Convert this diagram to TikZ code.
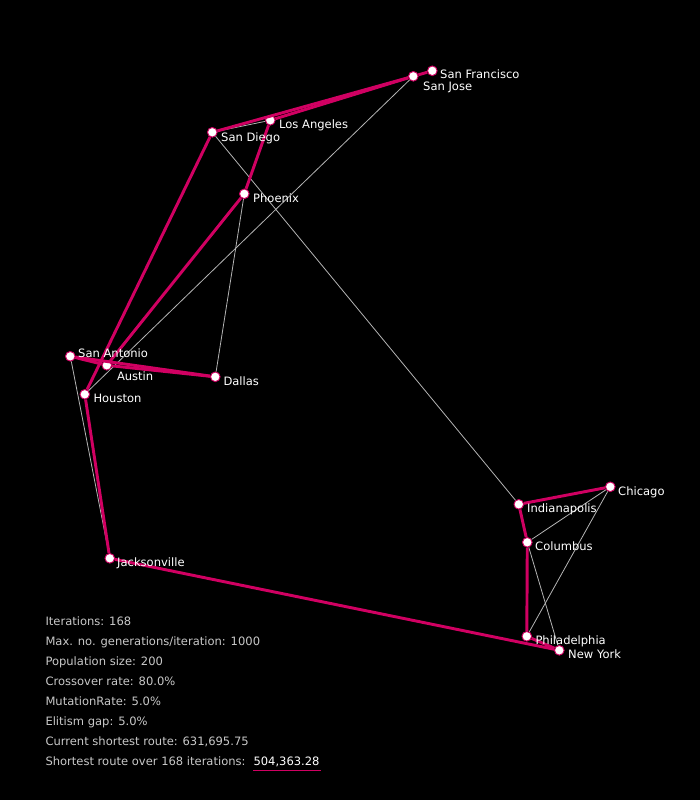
\documentclass[tikz,border=0pt]{standalone}
\usepackage{fontspec}
\setmainfont{DejaVu Sans}
\definecolor{routepink}{RGB}{208,0,98}
\definecolor{edgegrey}{RGB}{180,180,180}
\definecolor{infogrey}{RGB}{200,200,200}
\tikzset{
	every picture/.style={line width=0.75pt},
	city/.style={circle,draw=routepink,fill=white,line width=0.7pt,inner sep=0pt,minimum size=7.2pt},
	cityname/.style={anchor=base west,inner sep=0pt,text=white,font=\fontsize{8.65}{10}\selectfont},
	infotext/.style={anchor=base west,inner sep=0pt,text=infogrey,font=\fontsize{8.65}{10}\selectfont},
	bestroute/.style={draw=routepink,line width=2.2pt},
	candroute/.style={draw=edgegrey,line width=0.6pt},
}

\begin{document}
\begin{tikzpicture}[x=0.75pt,y=0.75pt,yscale=-1,xscale=1]
	\useasboundingbox (0,0) rectangle (700,800);
	\fill[black] (0,0) rectangle (700,800);

	% Cities
	\node[city] (sanfrancisco) at (432.3,70.8) {};
	\node[city] (sanjose) at (413.3,76.3) {};
	\node[city] (losangeles) at (270.3,120.3) {};
	\node[city] (sandiego) at (212.3,132.3) {};
	\node[city] (phoenix) at (244.3,193.8) {};
	\node[city] (sanantonio) at (70.3,356.3) {};
	\node[city] (austin) at (106.8,365.3) {};
	\node[city] (houston) at (84.8,394.3) {};
	\node[city] (dallas) at (215.3,376.8) {};
	\node[city] (jacksonville) at (109.8,558.3) {};
	\node[city] (indianapolis) at (518.8,504.3) {};
	\node[city] (chicago) at (610.3,486.8) {};
	\node[city] (columbus) at (527.3,542.3) {};
	\node[city] (philadelphia) at (526.8,636.3) {};
	\node[city] (newyork) at (559.3,650.3) {};

	% Thin Lines
	\draw[candroute] (sandiego) -- (losangeles);
	\draw[candroute] (sandiego) -- (indianapolis);
	\draw[candroute] (sanjose) -- (houston);
	\draw[candroute] (phoenix) -- (dallas);
	\draw[candroute] (sanantonio) -- (jacksonville);
	\draw[candroute] (chicago) -- (columbus);
	\draw[candroute] (chicago) -- (philadelphia);
	\draw[candroute] (columbus) -- (newyork);

	% Route Lines
	\draw[bestroute] (sanfrancisco) -- (sanjose);
	\draw[bestroute] (sanjose) -- (sandiego);
	\draw[bestroute] (sanjose) -- (losangeles);
	\draw[bestroute] (losangeles) -- (phoenix);
	\draw[bestroute] (phoenix) -- (austin);
	\draw[bestroute] (sandiego) -- (houston);
	\draw[bestroute] (sanantonio) -- (austin);
	\draw[bestroute] (sanantonio) -- (dallas);
	\draw[bestroute] (austin) -- (dallas);
	\draw[bestroute] (houston) -- (jacksonville);
	\draw[bestroute] (jacksonville) -- (newyork);
	\draw[bestroute] (newyork) -- (philadelphia);
	\draw[bestroute] (philadelphia) -- (columbus);
	\draw[bestroute] (columbus) -- (indianapolis);
	\draw[bestroute] (indianapolis) -- (chicago);

	% Text Node
	\node[cityname] (sanfrancisconame) at (439.7,78) {San Francisco};
	\node[cityname] (sanjosename) at (422.7,90) {San Jose};
	\node[cityname] (losangelesname) at (278.7,128) {Los Angeles};
	\node[cityname] (sandiegoname) at (220.7,141) {San Diego};
	\node[cityname] (phoenixname) at (252.7,202) {Phoenix};
	\node[cityname] (sanantonioname) at (77.7,357) {San Antonio};
	\node[cityname] (austinname) at (116.5,380) {Austin};
	\node[cityname] (houstonname) at (93,402) {Houston};
	\node[cityname] (dallasname) at (223,385) {Dallas};
	\node[cityname] (jacksonvillename) at (116.7,566) {Jacksonville};
	\node[cityname] (indianapolisname) at (526.7,512) {Indianapolis};
	\node[cityname] (chicagoname) at (617.7,495) {Chicago};
	\node[cityname] (columbusname) at (534.7,550) {Columbus};
	\node[cityname] (philadelphianame) at (535,644) {Philadelphia};
	\node[cityname] (newyorkname) at (567.7,658) {New York};

	% Text Node
	\node[infotext] (iterations) at (45,625) {Iterations: 168};
	\node[infotext] (maxgen) at (45,645) {Max. no. generations/iteration: 1000};
	\node[infotext] (popsize) at (45,665) {Population size: 200};
	\node[infotext] (crossover) at (45,685) {Crossover rate: 80.0\%};
	\node[infotext] (mutation) at (45,705) {MutationRate: 5.0\%};
	\node[infotext] (elitism) at (45,725) {Elitism gap: 5.0\%};
	\node[infotext] (current) at (45,745) {Current shortest route: 631,695.75};
	\node[infotext] (shortest) at (45,765) {Shortest route over 168 iterations:};
	\node[cityname] (bestvalue) at (253,765) {504,363.28};

	\coordinate (underlinestart) at (253,770);
	\coordinate (underlineend) at (321,770);
	\draw[draw=routepink,line width=0.75pt] (underlinestart) -- (underlineend);

\end{tikzpicture}
\end{document}
